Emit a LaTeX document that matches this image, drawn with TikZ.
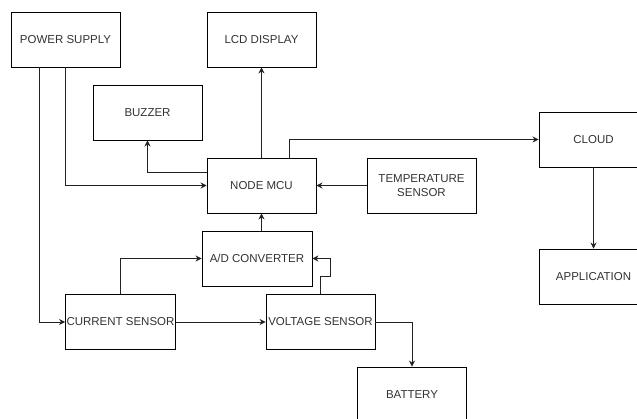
\documentclass[tikz,border=0pt]{standalone}
\usepackage{fontspec}
\setmainfont{Liberation Sans}
\usetikzlibrary{arrows.meta,calc}
\definecolor{txt}{HTML}{333333}
\definecolor{ln}{HTML}{222222}
\begin{document}
\begin{tikzpicture}[x=1pt,y=-1pt,
  blk/.style={draw=black,line width=0.9pt,minimum width=109pt,minimum height=55pt,inner sep=1pt,
    text=txt,font=\fontsize{11.5}{14}\selectfont,align=center,fill=white},
  arr/.style={draw=ln,line width=0.9pt,-{Stealth[length=6pt,width=6pt]}}]
\useasboundingbox (0,0) rectangle (637,418);
\clip (0,0) rectangle (637,418);
\fill[white] (0,0) rectangle (637,418);
\node[blk] (ps) at (65.5,39.5) {POWER SUPPLY};
\node[blk] (lcd) at (261.5,39.5) {LCD DISPLAY};
\node[blk] (buz) at (147.5,112.5) {BUZZER};
\node[blk] (mcu) at (261.5,185.5) {NODE MCU};
\node[blk] (temp) at (421.5,185.5) {TEMPERATURE\\SENSOR};
\node[blk] (cloud) at (593.5,139.5) {CLOUD};
\node[blk] (app) at (593.5,276.5) {APPLICATION};
\node[blk,minimum width=110pt] (adc) at (257,258.5) {A/D CONVERTER};
\node[blk] (cs) at (120.5,322) {CURRENT SENSOR};
\node[blk] (vs) at (320.5,322) {VOLTAGE SENSOR};
\node[blk] (bat) at (412,394.5) {BATTERY};
\draw[arr] ([xshift=-26.5pt]ps.south) |- (cs.west);
\draw[arr] (ps.south) |- (mcu.west);
\draw[arr] ([yshift=13.5pt]mcu.west) -| (buz.south);
\draw[arr] (mcu.north) -- (lcd.south);
\draw[arr] ([xshift=27.5pt]mcu.north) |- (cloud.west);
\draw[arr] (temp.west) -- (mcu.east);
\draw[arr] (adc.north -| mcu.south) -- (mcu.south);
\draw[arr] (cs.north) |- (adc.west);
\draw[arr] (cs.east) -- (vs.west);
\draw[arr] (vs.north) -- ++(0,-18) -| ([xshift=18pt]adc.east) -- (adc.east);
\draw[arr] (vs.east) -| (bat.north);
\draw[arr] (cloud.south) -- (app.north);
\end{tikzpicture}
\end{document}
